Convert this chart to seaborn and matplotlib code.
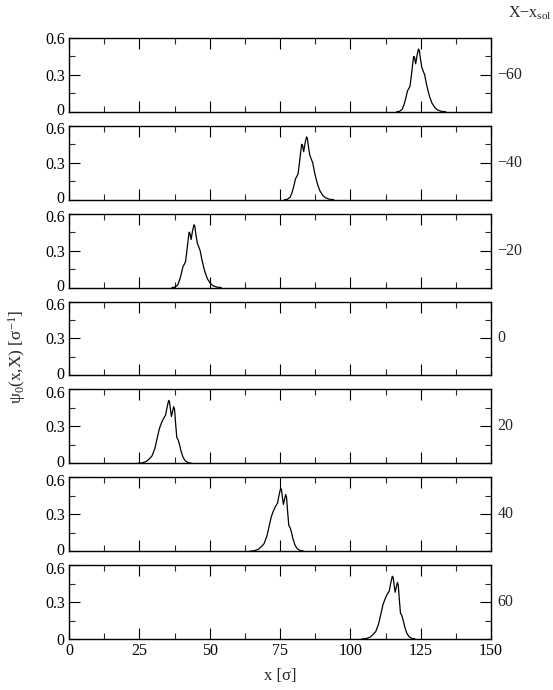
import numpy as np
import pandas as pd
import matplotlib
matplotlib.use("Agg")
import matplotlib.pyplot as plt
from matplotlib.ticker import MultipleLocator, FixedLocator
from matplotlib.transforms import ScaledTranslation
import seaborn as sns

# ---------------- data ----------------
shift_labels = ["\u221260", "\u221240", "\u221220", "0", "20", "40", "60"]
peak_centers = [124.4, 84.6, 44.6, None, 35.5, 75.3, 115.0]

# profile of the solitons with X - x_sol < 0, offsets from the main peak
neg_dx = [-8.0, -7.0, -6.0, -5.3, -4.6, -4.1, -3.6, -3.2, -2.8, -2.3, -1.9,
          -1.6, -1.2, -0.7, -0.2, 0.1, 0.5, 1.0, 1.5, 2.0, 2.6, 3.2, 3.8,
          4.6, 5.6, 6.6, 8.0, 9.5]
neg_y = [0.0, 0.003, 0.02, 0.06, 0.12, 0.17, 0.19, 0.21, 0.28, 0.38, 0.45,
         0.44, 0.39, 0.46, 0.51, 0.50, 0.43, 0.36, 0.33, 0.30, 0.23, 0.17,
         0.12, 0.07, 0.035, 0.015, 0.003, 0.0]

# profile of the solitons with X - x_sol > 0
pos_dx = [-11.0, -9.5, -8.0, -7.0, -6.0, -5.0, -4.2, -3.4, -2.6, -2.0, -1.2,
          -0.6, -0.1, 0.2, 0.6, 0.9, 1.3, 1.7, 2.0, 2.4, 2.8, 3.3, 3.8, 4.3,
          5.0, 5.8, 6.8, 8.0]
pos_y = [0.0, 0.003, 0.015, 0.035, 0.06, 0.12, 0.20, 0.28, 0.33, 0.36, 0.39,
         0.46, 0.51, 0.50, 0.43, 0.38, 0.42, 0.46, 0.44, 0.32, 0.21, 0.19,
         0.15, 0.10, 0.05, 0.02, 0.005, 0.0]

x_ticks = [0, 25, 50, 75, 100, 125, 150]
y_ticks = [0, 0.3, 0.6]
y_ticklabels = ["0", "0.3", "0.6"]

# ---------------- style ----------------
sns.set_style("ticks")
plt.rcParams["font.family"] = ["Liberation Serif", "DejaVu Serif"]
plt.rcParams["mathtext.fontset"] = "custom"
plt.rcParams["mathtext.rm"] = "Liberation Serif"
plt.rcParams["mathtext.it"] = "Liberation Serif:italic"
plt.rcParams["mathtext.bf"] = "Liberation Serif:bold"
FS = 11.5

fig = plt.figure(figsize=(5.53, 6.90), dpi=100)
axes = fig.subplots(7, 1, sharex=True)
fig.subplots_adjust(left=0.1248, right=0.888, top=0.945, bottom=0.0739, hspace=0.19)

up = ScaledTranslation(0, 2.5 / 100, fig.dpi_scale_trans)
down = ScaledTranslation(0, -2.5 / 100, fig.dpi_scale_trans)

for i, ax in enumerate(axes):
    c = peak_centers[i]
    if c is not None:
        if i < 3:
            dx, yy = neg_dx, neg_y
        else:
            dx, yy = pos_dx, pos_y
        df = pd.DataFrame({"x": [c + d for d in dx], "y": yy})
        sns.lineplot(data=df, x="x", y="y", ax=ax, color="black", lw=0.9,
                     estimator=None, sort=False)
    ax.set_xlim(0, 150)
    ax.set_ylim(0, 0.6)
    ax.set_xlabel("")
    ax.set_ylabel("")
    ax.xaxis.set_major_locator(FixedLocator(x_ticks))
    ax.xaxis.set_minor_locator(MultipleLocator(12.5))
    ax.yaxis.set_major_locator(FixedLocator(y_ticks))
    ax.yaxis.set_minor_locator(MultipleLocator(0.15))
    ax.set_yticklabels(y_ticklabels, fontsize=FS)
    ax.tick_params(which="major", direction="in", length=8, width=0.8,
                   top=True, right=True, pad=3, colors="black")
    ax.tick_params(which="minor", direction="in", length=4.3, width=0.8,
                   top=True, right=True)
    for s in ax.spines.values():
        s.set_linewidth(1.0)
        s.set_color("black")
    ax.text(1.015, 0.5, shift_labels[i], transform=ax.transAxes,
            ha="left", va="center", fontsize=FS)
    if i < 6:
        ax.tick_params(labelbottom=False)
        lbl0 = ax.get_yticklabels()[0]
        lbl0.set_transform(lbl0.get_transform() + up)
    if i > 0:
        lbl6 = ax.get_yticklabels()[2]
        lbl6.set_transform(lbl6.get_transform() + down)

axes[-1].set_xticklabels([str(t) for t in x_ticks], fontsize=FS)

fig.text(280 / 553, 1 - 676 / 690, "x [\u03c3]", ha="center", va="center", fontsize=FS + 0.5)
fig.text(17 / 553, 1 - 357 / 690, "\u03c8$_0$(x,X) [\u03c3$^{\\mathregular{-1}}$]",
         ha="center", va="center", rotation=90, fontsize=FS + 1)
fig.text(508 / 553, 1 - 13 / 690, "X\u2212x$_{\\mathregular{sol}}$", ha="left",
         va="center", fontsize=FS)

fig.savefig("out.png", dpi=100)
